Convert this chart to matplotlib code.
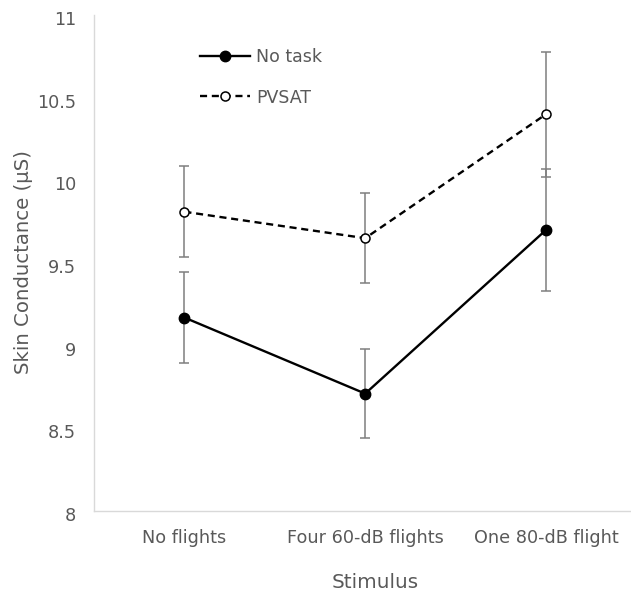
import numpy as np
import matplotlib
matplotlib.use("Agg")
import matplotlib.pyplot as plt
import matplotlib.transforms as mtransforms

# data
categories = ["No flights", "Four 60-dB flights", "One 80-dB flight"]
no_task = [9.17, 8.71, 9.70]
no_task_err = [0.276, 0.27, 0.37]
pvsat = [9.81, 9.65, 10.40]
pvsat_err = [0.276, 0.272, 0.377]
yticks = [8, 8.5, 9, 9.5, 10, 10.5, 11]

plt.rcParams['font.family'] = ['DejaVu Sans']
grey_text = '#595959'

W, H = 631, 593
fig = plt.figure(figsize=(W / 100, H / 100), dpi=100)
ax = fig.add_axes([94 / W, 1 - 511 / H, 1 - 94 / W, (511 - 15) / H])

x = np.arange(len(categories))

# error bars behind the lines
for vals, errs in [(pvsat, pvsat_err), (no_task, no_task_err)]:
    ax.errorbar(x, vals, yerr=errs, fmt='none', ecolor='#7f7f7f',
                elinewidth=1.1, capsize=3.3, capthick=1.1, zorder=1)

ax.plot(x, no_task, color='black', lw=1.7, marker='o', ms=7.5,
        mfc='black', mec='black', label='No task', zorder=3)
ax.plot(x, pvsat, color='black', lw=1.7, ls=(0, (3, 2)), marker='o', ms=6.5,
        mfc='white', mec='black', mew=1.1, label='PVSAT', zorder=3)

ax.set_ylim(8, 11)
ax.set_yticks(yticks)
ax.set_yticklabels([f'{v:g}' for v in yticks])
ax.set_xlim(-0.5, 2.47)
ax.set_xticks(x)
ax.set_xticklabels(categories)

ax.tick_params(length=0, labelsize=12.7, labelcolor=grey_text)
ax.tick_params(axis='y', pad=13)
ax.tick_params(axis='x', pad=13)
# y labels sit a little below their value in the reference
shift = mtransforms.ScaledTranslation(0, -3 / 100, fig.dpi_scale_trans)
for lab in ax.get_yticklabels():
    lab.set_transform(lab.get_transform() + shift)
for side in ['top', 'right']:
    ax.spines[side].set_visible(False)
for side in ['left', 'bottom']:
    ax.spines[side].set_color('#d9d9d9')
    ax.spines[side].set_linewidth(1)

ax.set_ylabel('Skin Conductance (µS)', fontsize=14.2, color=grey_text,
              ha='center', va='center')
ax.yaxis.set_label_coords((23 - 94) / 537, (511 - 262) / 496)
ax.set_xlabel('Stimulus', fontsize=14.4, color=grey_text,
              ha='center', va='center')
ax.xaxis.set_label_coords((375 - 94) / 537, (511 - 582) / 496)

leg = ax.legend(loc='upper left', bbox_to_anchor=(200 / W, 1 - 48 / H),
                bbox_transform=fig.transFigure, frameon=False, borderpad=0,
                borderaxespad=0, fontsize=12.5, handlelength=2.9,
                handletextpad=0.35, labelspacing=1.3)
for t in leg.get_texts():
    t.set_color(grey_text)

fig.savefig('out.png', dpi=100)
